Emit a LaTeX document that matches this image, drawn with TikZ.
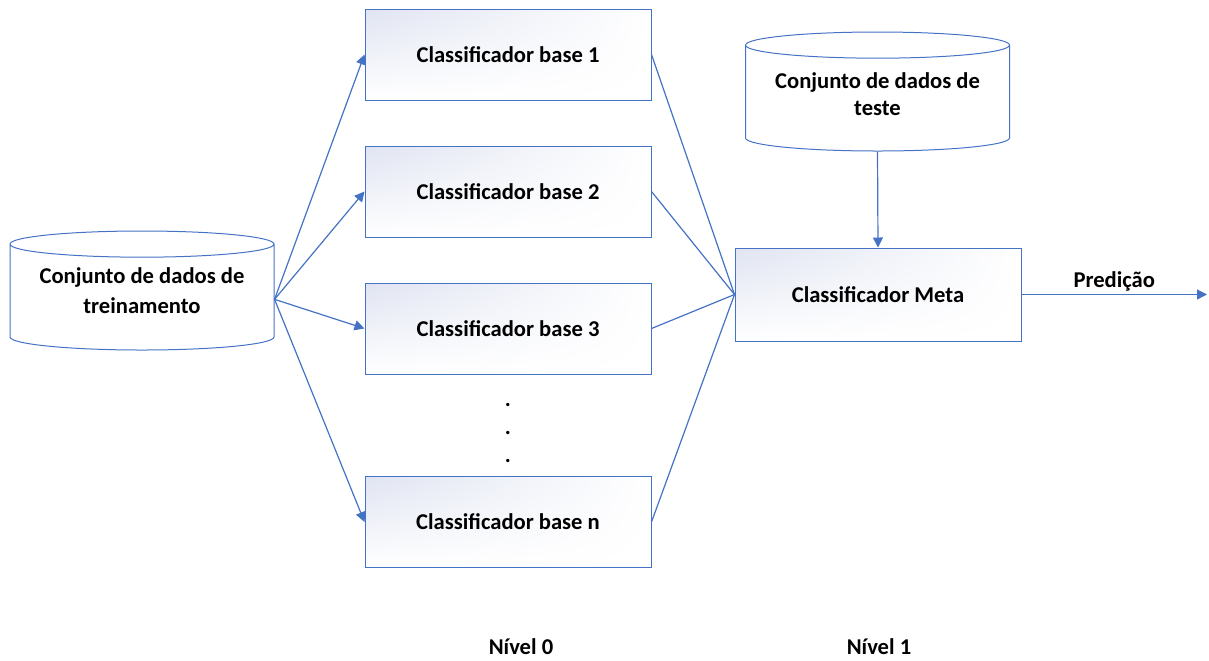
\documentclass[tikz,border=0pt]{standalone}
\usepackage{fontspec}
\setmainfont{Carlito}
\usetikzlibrary{positioning,arrows.meta,shapes.geometric,shadings}
\definecolor{linkblue}{HTML}{4472C4}
\definecolor{boxtint}{HTML}{E0E4F2}

\begin{document}
\begin{tikzpicture}[
        x=0.5pt, y=-0.5pt,
        font=\fontsize{11.3}{15}\selectfont\bfseries,
        clf/.style={draw=linkblue, line width=0.5pt, minimum width=143pt, minimum height=45.5pt,
            upper left=boxtint, upper right=white, lower left=white, lower right=white},
        dataset/.style={cylinder, shape border rotate=90, draw=linkblue, line width=0.5pt,
            aspect=0.12, minimum width=132pt, minimum height=59.5pt, align=center,
            anchor=shape center, text depth=9pt},
        arrow/.style={-{Triangle[length=5pt,width=5pt]}, line width=0.6pt, color=linkblue},
        link/.style={line width=0.6pt, color=linkblue}
    ]
        \useasboundingbox (0,0) rectangle (1209,660);

        % dados de treinamento e de teste
        \node[dataset] (train) at (142,290.5) {Conjunto de dados de\\treinamento};
        \node[dataset, text depth=6pt, font=\fontsize{11.3}{13.5}\selectfont\bfseries] (test) at (877.5,91.5) {Conjunto de dados de\\teste};

        % nivel 0: classificadores base
        \node[clf] (b1) at (508,54.5) {Classificador base 1};
        \node[clf, below=22.5pt of b1] (b2) {Classificador base 2};
        \node[clf, below=22.5pt of b2] (b3) {Classificador base 3};
        \node[clf] (bn) at (508,522) {Classificador base n};
        \node[align=center, font=\fontsize{11.3}{14.2}\selectfont\bfseries] (dots) at (508,433) {.\\.\\.};

        % nivel 1: meta classificador
        \node[clf, minimum height=46.5pt] (meta) at (878,294.5) {Classificador Meta};
        \coordinate (out) at (1207,294.5);

        \foreach \b in {b1,b2,b3,bn} {
            \draw[arrow] (train.east) -- (\b.west);
            \draw[link] (\b.east) -- (meta.west);
        }
        \draw[arrow] (test.south) -- (meta.north);
        \draw[arrow] (meta.east) -- (out) node[midway, above=-2pt, text=black] {Predição};

        \node (lvl0) at (521,647) {Nível 0};
        \node (lvl1) at (879,647) {Nível 1};
    \end{tikzpicture}
\end{document}
